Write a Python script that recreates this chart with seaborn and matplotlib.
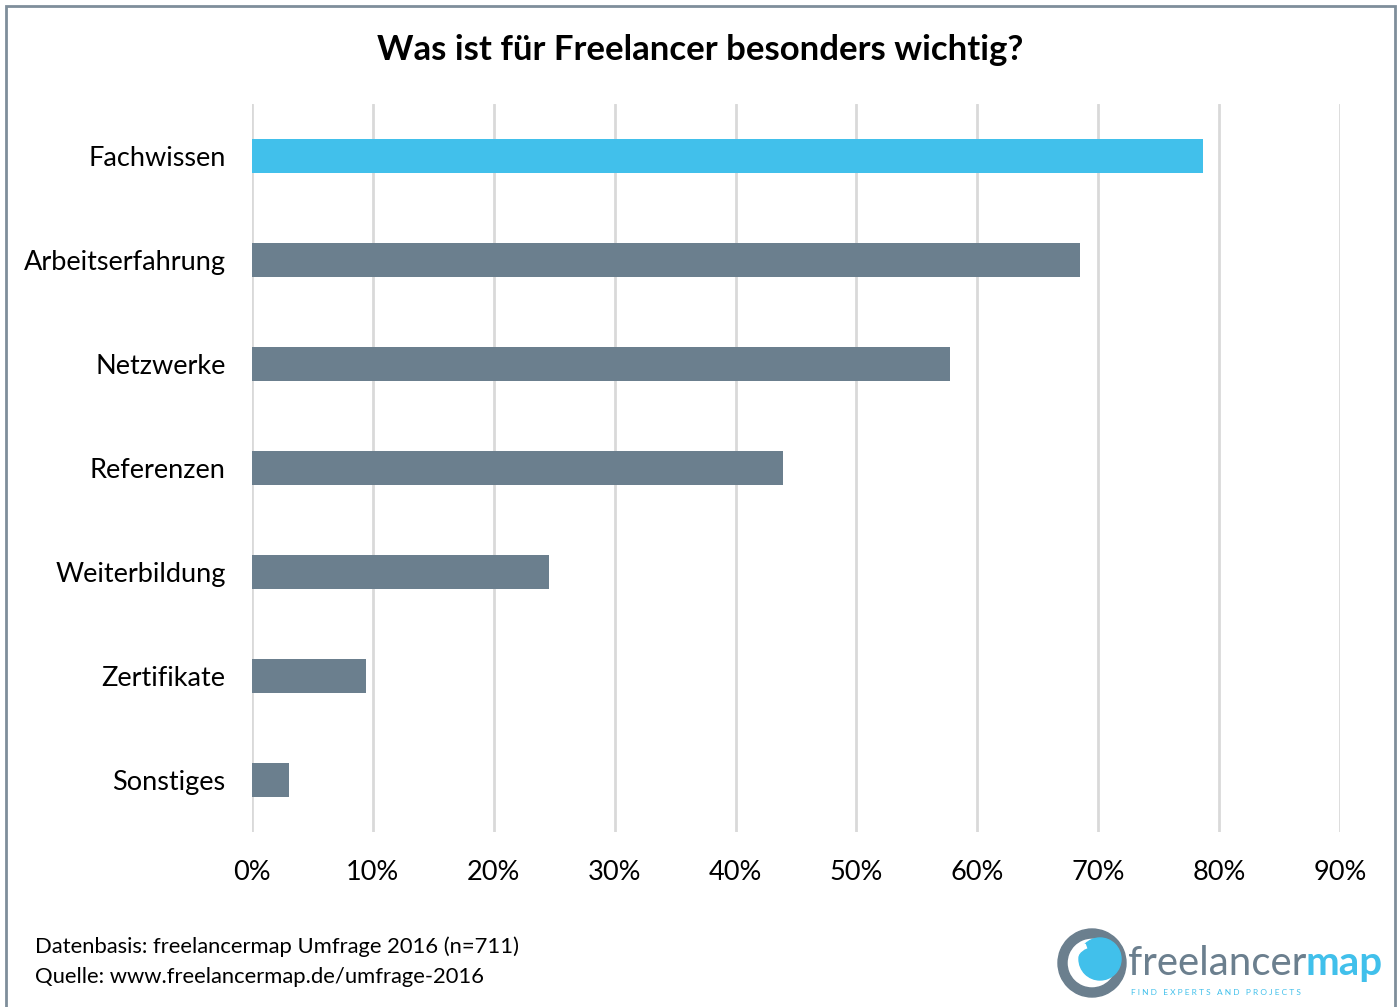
import matplotlib
matplotlib.use("Agg")
import matplotlib.pyplot as plt
import seaborn as sns
import pandas as pd
from matplotlib.patches import Circle, Rectangle, Wedge
from matplotlib.ticker import FuncFormatter

# --- DATA ---
categories = ["Fachwissen", "Arbeitserfahrung", "Netzwerke", "Referenzen",
              "Weiterbildung", "Zertifikate", "Sonstiges"]
shares = [78.7, 68.5, 57.7, 43.9, 24.6, 9.4, 3.1]
x_ticks = [0, 10, 20, 30, 40, 50, 60, 70, 80, 90]

title = "Was ist für Freelancer besonders wichtig?"
footer_lines = ["Datenbasis: freelancermap Umfrage 2016 (n=711)",
                "Quelle: www.freelancermap.de/umfrage-2016"]

BLUE = "#41c0eb"
SLATE = "#6b7f8e"
bar_colors = [BLUE] + [SLATE] * (len(categories) - 1)

df = pd.DataFrame({"Kategorie": categories, "Anteil": shares})

# Style
sns.set_theme(style="white")
plt.rcParams["font.family"] = ["Lato", "DejaVu Sans"]

fig = plt.figure(figsize=(14, 10.07), dpi=100)
ax = fig.add_axes([252 / 1400, 1 - 832 / 1007, (1340 - 252) / 1400, (832 - 104) / 1007])

sns.barplot(data=df, x="Anteil", y="Kategorie", hue="Kategorie",
            palette=bar_colors, width=0.32, legend=False, ax=ax,
            saturation=1, edgecolor="none")

ax.set_xlim(0, 90)
ax.set_xticks(x_ticks)
ax.xaxis.set_major_formatter(FuncFormatter(lambda v, _: f"{v:.0f}%"))
ax.set_xlabel("")
ax.set_ylabel("")
ax.tick_params(axis="x", length=0, labelsize=19.5, pad=20, colors="black")
ax.tick_params(axis="y", length=0, labelsize=19.5, pad=19, colors="black")
ax.grid(axis="x", color="#d9d9d9", linewidth=2)
ax.set_axisbelow(True)
for s in ax.spines.values():
    s.set_visible(False)

# Title and footer
fig.text(0.5, 1 - 50 / 1007, title, ha="center", va="center",
         fontsize=25, fontweight="bold", color="black")
fig.text(35 / 1400, 1 - 947 / 1007, footer_lines[0], ha="left", va="center",
         fontsize=15.8, color="black")
fig.text(35 / 1400, 1 - 977 / 1007, footer_lines[1], ha="left", va="center",
         fontsize=15.8, color="black")

# Frame around the chart
frame = Rectangle((6 / 1400, -0.01), (1395 - 6) / 1400, 1 - 6 / 1007 + 0.01,
                  transform=fig.transFigure, fill=False,
                  edgecolor="#7f8e9b", linewidth=2, clip_on=False)
fig.patches.append(frame)

# Logo (approximation)
logo_ax = fig.add_axes([1050 / 1400, 0, 350 / 1400, 90 / 1007])
logo_ax.set_xlim(1050, 1400)
logo_ax.set_ylim(1007, 917)
logo_ax.set_aspect("equal")
logo_ax.axis("off")
logo_ax.add_patch(Wedge((1092, 963), 34, 0, 360, width=9, color=SLATE))
logo_ax.add_patch(Circle((1100, 959), 21, color=BLUE))
logo_ax.add_patch(Wedge((1092, 963), 20, 110, 250, width=4, color="white"))
word = logo_ax.text(1128, 975, "freelancer", fontsize=29, color=SLATE,
                    va="baseline", ha="left")
renderer = fig.canvas.get_renderer()
bb = word.get_window_extent(renderer=renderer)
x_end = logo_ax.transData.inverted().transform((bb.x1, bb.y0))[0]
logo_ax.text(x_end - 1, 975, "map", fontsize=29, color=BLUE, fontweight="bold",
             va="baseline", ha="left")
logo_ax.text(1131, 993, "F I N D   E X P E R T S   A N D   P R O J E C T S",
             fontsize=6.0, color=BLUE, va="center", ha="left")

fig.savefig("out.png", dpi=100)
